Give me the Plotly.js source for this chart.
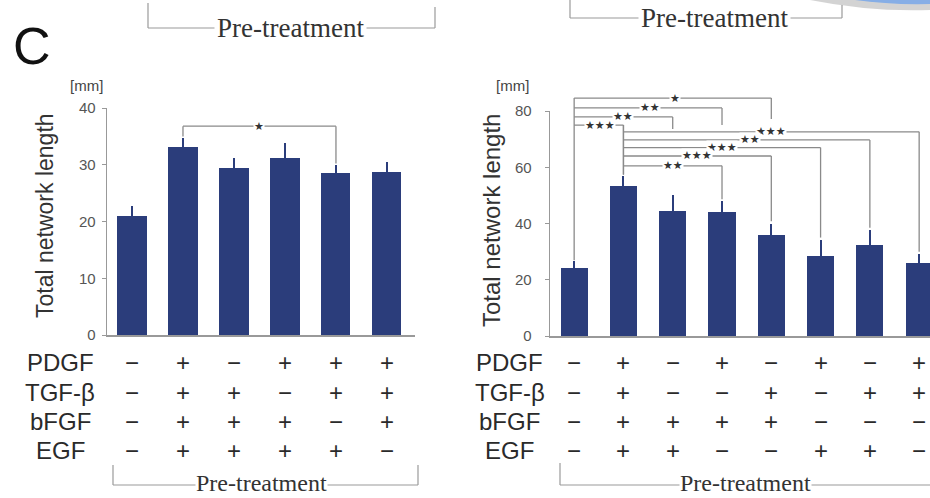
<!DOCTYPE html>
<html><head><meta charset="utf-8">
<script src="https://cdn.plot.ly/plotly-3.0.1.min.js"></script>
<style>html,body{margin:0;padding:0;background:#fff;}#chart{width:930px;height:498px;}</style>
</head><body><div id="chart"></div>
<script>
// ---------- DATA ----------
const factorRows = ['PDGF', 'TGF-β', 'bFGF', 'EGF'];

const leftValues = [21.0, 33.1, 29.4, 31.2, 28.5, 28.7];
const leftErrors = [1.7, 1.6, 1.8, 2.6, 1.4, 1.7];
const leftPDGF = ['−', '+', '−', '+', '+', '+'];
const leftTGF  = ['−', '+', '+', '−', '+', '+'];
const leftBFGF = ['−', '+', '+', '+', '−', '+'];
const leftEGF  = ['−', '+', '+', '+', '+', '−'];

const rightValues = [24.1, 53.5, 44.3, 44.2, 36.0, 28.3, 32.5, 25.8];
const rightErrors = [2.5, 3.5, 6.0, 3.8, 4.0, 6.0, 5.3, 3.5];
const rightPDGF = ['−', '+', '−', '+', '−', '+', '−', '+'];
const rightTGF  = ['−', '+', '−', '−', '+', '−', '+', '+'];
const rightBFGF = ['−', '+', '+', '+', '+', '−', '−', '−'];
const rightEGF  = ['−', '+', '+', '−', '−', '+', '+', '−'];

// significance brackets
const leftSigFrom = [1];
const leftSigTo = [4];
const leftSigLevel = [36.8];
const leftSigLabel = ['*'];
const leftSigLabelPos = [2.49];

const rightSigFrom = [0, 0, 0, 0, 1, 1, 1, 1, 1];
const rightSigTo = [4, 3, 2, 1, 7, 6, 5, 4, 3];
const rightSigLevel = [84.6, 81.1, 77.9, 75.0, 72.6, 69.7, 67.0, 64.0, 60.5];
const rightSigEnd = [77.2, 75.0, 73.6, 57.5, 30.0, 38.5, 35.0, 40.8, 48.6];
const rightSigLabel = ['*', '**', '**', '***', '***', '**', '***', '***', '**'];
const rightSigLabelPos = [2.05, 1.54, 0.99, 0.53, 4.0, 3.57, 3.0, 2.49, 2.0];

// ---------- LAYOUT HELPERS ----------
const W = 930, H = 498;
const px = v => v / W;
const py = v => 1 - v / H;
const BAR = '#2b3d7b';
const LINE = '#8a8a8a';

const leftDom = {x: [px(107), px(415)], y: [py(335), py(108)], range: [0, 40]};
const rightDom = {x: [px(550), 1], y: [py(336), py(111)], range: [0, 80]};
const yToPaper = (dom, v) => dom.y[0] + (v - dom.range[0]) / (dom.range[1] - dom.range[0]) * (dom.y[1] - dom.y[0]);

const traces = [
  {type: 'bar', x: leftValues.map((_, i) => i), y: leftValues, xaxis: 'x', yaxis: 'y',
   width: 0.57, marker: {color: BAR}, hoverinfo: 'skip',
   error_y: {type: 'data', array: leftErrors, visible: true, color: BAR, thickness: 2, width: 0}},
  {type: 'bar', x: rightValues.map((_, i) => i), y: rightValues, xaxis: 'x2', yaxis: 'y2',
   width: 0.55, marker: {color: BAR}, hoverinfo: 'skip',
   error_y: {type: 'data', array: rightErrors, visible: true, color: BAR, thickness: 2, width: 0}}
];

const shapes = [];
const annotations = [];
const lineShape = (x0, y0, x1, y1, xref, yref, color, w) =>
  shapes.push({type: 'line', x0, y0, x1, y1, xref, yref, line: {color: color || LINE, width: w || 1.3}});
const starText = s => s.replace(/\*/g, '★');

// significance brackets drawing
function drawSig(dom, xref, from, to, level, end, label, lpos, values, errs) {
  const tops = values.map((v, i) => v + errs[i]);
  for (let k = 0; k < from.length; k++) {
    const yl = yToPaper(dom, level[k]);
    lineShape(from[k], yl, to[k], yl, xref, 'paper');
    const e = end ? end[k] : tops[to[k]] + 0.3;
    lineShape(to[k], yl, to[k], yToPaper(dom, e), xref, 'paper');
    annotations.push({xref, yref: 'paper', x: lpos[k], y: yl, text: starText(label[k]), showarrow: false,
      font: {family: 'DejaVu Sans', size: 11, color: '#333'}, bgcolor: '#fff', borderpad: 0,
      xanchor: 'center', yanchor: 'middle'});
  }
  const origins = [...new Set(from)];
  origins.forEach(o => {
    let top = -Infinity;
    for (let k = 0; k < from.length; k++) {
      if (from[k] === o || to[k] === o) top = Math.max(top, level[k]);
    }
    lineShape(o, yToPaper(dom, top), o, yToPaper(dom, tops[o] + 0.3), xref, 'paper');
  });
}
drawSig(leftDom, 'x', leftSigFrom, leftSigTo, leftSigLevel, null, leftSigLabel, leftSigLabelPos, leftValues, leftErrors);
drawSig(rightDom, 'x2', rightSigFrom, rightSigTo, rightSigLevel, rightSigEnd, rightSigLabel, rightSigLabelPos, rightValues, rightErrors);

// factor table (+/−)
const rowY = [362, 392, 421, 450];
const leftRows = [leftPDGF, leftTGF, leftBFGF, leftEGF];
const rightRows = [rightPDGF, rightTGF, rightBFGF, rightEGF];
const tableFont = {family: 'Arial, Liberation Sans, sans-serif', size: 24, color: '#2a2a2a'};
factorRows.forEach((name, r) => {
  annotations.push({xref: 'paper', yref: 'paper', x: px(60), y: py(rowY[r]), text: name, showarrow: false,
    font: tableFont, xanchor: 'center', yanchor: 'middle'});
  annotations.push({xref: 'paper', yref: 'paper', x: px(510), y: py(rowY[r]), text: name, showarrow: false,
    font: tableFont, xanchor: 'center', yanchor: 'middle'});
  leftRows[r].forEach((s, i) => annotations.push({xref: 'x', yref: 'paper', x: i, y: py(rowY[r]), text: s,
    showarrow: false, font: tableFont, xanchor: 'center', yanchor: 'middle'}));
  rightRows[r].forEach((s, i) => annotations.push({xref: 'x2', yref: 'paper', x: i, y: py(rowY[r]), text: s,
    showarrow: false, font: tableFont, xanchor: 'center', yanchor: 'middle'}));
});

// "Pre-treatment" brackets
const BR = '#9a9a9a';
lineShape(px(148), py(28), px(435), py(28), 'paper', 'paper', BR, 1.2);
lineShape(px(148), py(3), px(148), py(28), 'paper', 'paper', BR, 1.2);
lineShape(px(435), py(7), px(435), py(28), 'paper', 'paper', BR, 1.2);
lineShape(px(570), py(18), px(842), py(18), 'paper', 'paper', BR, 1.2);
lineShape(px(570), py(0), px(570), py(18), 'paper', 'paper', BR, 1.2);
lineShape(px(842), py(5), px(842), py(18), 'paper', 'paper', BR, 1.2);
lineShape(px(113), py(485), px(418), py(485), 'paper', 'paper', BR, 1.2);
lineShape(px(113), py(465), px(113), py(485), 'paper', 'paper', BR, 1.2);
lineShape(px(418), py(465), px(418), py(485), 'paper', 'paper', BR, 1.2);
lineShape(px(560), py(485), 1, py(485), 'paper', 'paper', BR, 1.2);
lineShape(px(560), py(463), px(560), py(485), 'paper', 'paper', BR, 1.2);

const serif = s => ({family: 'Liberation Serif, Times New Roman, serif', size: s, color: '#333'});
[[290, 28, 27, 2], [714, 18, 27, 2], [261, 483, 24, 0], [745, 483, 24, 0]].forEach(([x, y, s, b]) =>
  annotations.push({xref: 'paper', yref: 'paper', x: px(x), y: py(y), text: 'Pre-treatment', showarrow: false,
    font: serif(s), bgcolor: '#fff', borderpad: b, xanchor: 'center', yanchor: 'middle'}));

// decorative swoosh top-right
const P = (x, y) => `${px(x)},${py(y)}`;
shapes.push({type: 'path', xref: 'paper', yref: 'paper', line: {width: 0}, fillcolor: 'rgba(110,110,110,0.3)',
  path: `M ${P(810, 0)} Q ${P(870, 12)} ${P(930, 10)} L ${P(930, 0)} Z`});
shapes.push({type: 'path', xref: 'paper', yref: 'paper', line: {width: 0}, fillcolor: '#86aee6',
  path: `M ${P(855, 0)} Q ${P(890, 5)} ${P(930, 4)} L ${P(930, 0)} Z`});

// other text
const sans = (s, c) => ({family: 'Arial, Liberation Sans, sans-serif', size: s, color: c || '#444'});
annotations.push({xref: 'paper', yref: 'paper', x: px(32), y: py(46), text: 'C', showarrow: false,
  font: sans(52, '#111'), xanchor: 'center', yanchor: 'middle'});
annotations.push({xref: 'paper', yref: 'paper', x: px(86), y: py(85), text: '[mm]', showarrow: false,
  font: sans(15), xanchor: 'center', yanchor: 'middle'});
annotations.push({xref: 'paper', yref: 'paper', x: px(512), y: py(85), text: '[mm]', showarrow: false,
  font: sans(15), xanchor: 'center', yanchor: 'middle'});
annotations.push({xref: 'paper', yref: 'paper', x: px(45), y: py(216), text: 'Total network length', showarrow: false,
  textangle: -90, font: sans(23, '#333'), xanchor: 'center', yanchor: 'middle'});
annotations.push({xref: 'paper', yref: 'paper', x: px(492), y: py(221), text: 'Total network length', showarrow: false,
  textangle: -90, font: sans(24, '#333'), xanchor: 'center', yanchor: 'middle'});

const yCommon = {showgrid: false, zeroline: false, showline: true, linecolor: '#999', linewidth: 1.3,
  ticks: 'outside', ticklen: 4, tickcolor: '#999', tickfont: sans(15, '#555'), fixedrange: true};
const xCommon = {showgrid: false, zeroline: false, showline: true, linecolor: '#999', linewidth: 2,
  ticks: '', showticklabels: false, fixedrange: true};

const layout = {
  width: W, height: H, margin: {l: 0, r: 0, t: 0, b: 0},
  paper_bgcolor: '#fff', plot_bgcolor: '#fff', showlegend: false, bargap: 0,
  xaxis: Object.assign({}, xCommon, {domain: leftDom.x, range: [-0.49, 5.55], anchor: 'y'}),
  yaxis: Object.assign({}, yCommon, {domain: leftDom.y, range: leftDom.range, tickvals: [0, 10, 20, 30, 40],
    anchor: 'x', ticklabelstandoff: 3}),
  xaxis2: Object.assign({}, xCommon, {domain: rightDom.x, range: [-0.49, 7.22], anchor: 'y2'}),
  yaxis2: Object.assign({}, yCommon, {domain: rightDom.y, range: rightDom.range, tickvals: [0, 20, 40, 60, 80],
    anchor: 'x2', ticklabelstandoff: 10}),
  shapes, annotations
};

Plotly.newPlot('chart', traces, layout, {displayModeBar: false, staticPlot: true});
</script>
</body></html>
